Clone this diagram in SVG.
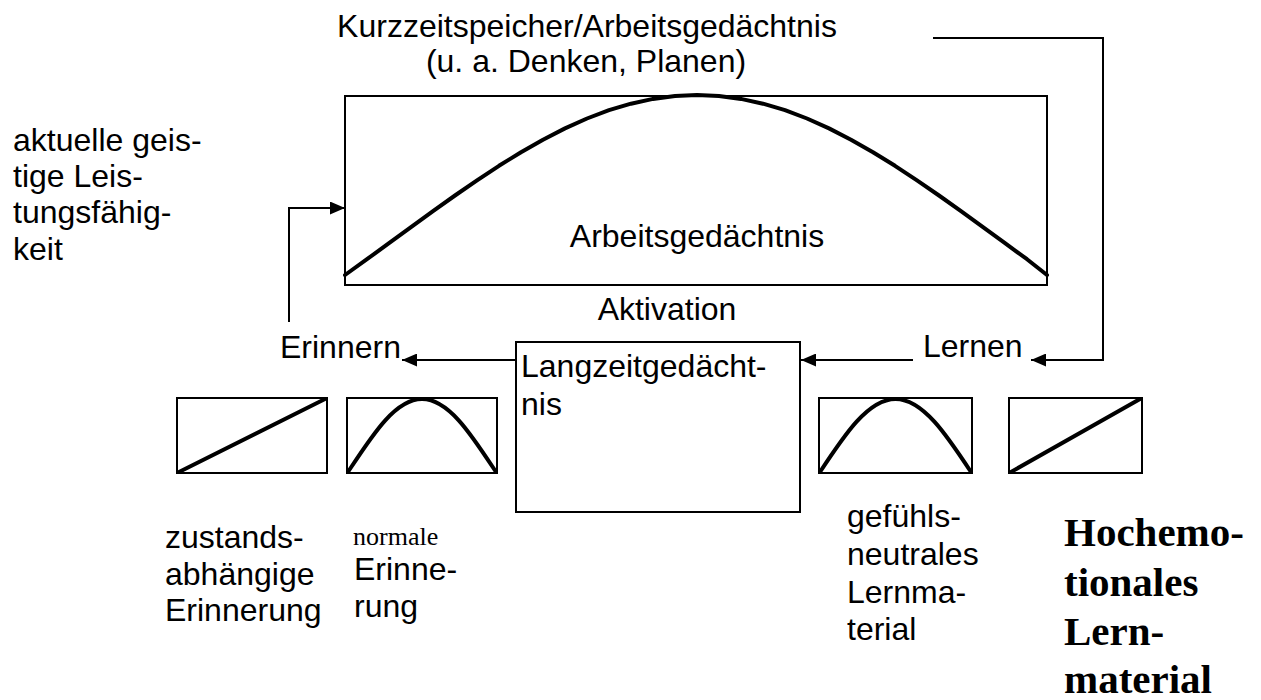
<svg xmlns="http://www.w3.org/2000/svg" width="1261" height="700" viewBox="0 0 1261 700">
<style>
.t{font-family:"Liberation Sans",Arial,sans-serif;font-size:32px;fill:#000}
.box{fill:none;stroke:#000;stroke-width:2}
.curve{fill:none;stroke:#000;stroke-width:4;stroke-linejoin:round;stroke-linecap:round}
.con{fill:none;stroke:#000;stroke-width:2}
.ser{font-family:"Liberation Serif","Times New Roman",serif;fill:#000}
.hb{font-family:"Liberation Serif","Times New Roman",serif;font-size:41px;font-weight:bold;fill:#000}
</style>
<defs>
<marker id="ah" viewBox="0 0 10 10" refX="10" refY="5" markerWidth="15" markerHeight="13" markerUnits="userSpaceOnUse" orient="auto" preserveAspectRatio="none">
<path d="M0,0 L10,5 L0,10 Z" fill="#000"/>
</marker>
</defs>
<rect width="1261" height="700" fill="#fff"/>

<g id="title">
<text class="t" x="587" y="37" text-anchor="middle">Kurzzeitspeicher/Arbeitsgedächtnis</text>
<text class="t" x="586" y="72" text-anchor="middle">(u. a. Denken, Planen)</text>
</g>

<g id="arbeitsgedaechtnis">
<rect class="box" x="345" y="96" width="702" height="189"/>
<polyline class="curve" points="345,275 367,259.2 389,243.2 411,227.1 433,211.2 455,195.5 477,180.3 499,165.8 521,152.2 543,139.7 565,128.4 587,118.5 609,110.2 631,103.7 653,98.9 675,96 697,95 719,96 741,98.9 763,103.7 785,110.2 807,118.5 829,128.4 851,139.7 873,152.2 895,165.8 917,180.3 939,195.5 961,211.2 983,227.1 1005,243.2 1027,259.2 1047,275"/>
<text class="t" x="697" y="247" text-anchor="middle">Arbeitsgedächtnis</text>
</g>

<g id="leistung">
<text class="t" x="13" y="151">aktuelle geis-</text>
<text class="t" x="13" y="187">tige Leis-</text>
<text class="t" x="13" y="223">tungsfähig-</text>
<text class="t" x="13" y="260">keit</text>
</g>

<g id="aktivation"><text class="t" x="667" y="320" text-anchor="middle">Aktivation</text></g>
<g id="erinnern"><text class="t" x="280" y="358" font-size="31">Erinnern</text></g>
<g id="lernen"><text class="t" x="923" y="357" font-size="31">Lernen</text></g>

<g id="langzeit">
<rect class="box" x="516" y="342" width="284" height="170"/>
<text class="t" x="521" y="377">Langzeitgedächt-</text>
<text class="t" x="521" y="415">nis</text>
</g>

<g id="box-zustand">
<rect class="box" x="177" y="398" width="150" height="75"/>
<line class="curve" x1="179" y1="472" x2="325" y2="399"/>
</g>
<g id="box-normal">
<rect class="box" x="347" y="398" width="150" height="75"/>
<path class="curve" d="M348,472 C372,435.6 395,399 422,399 C449,399 472,435.6 496,472"/>
</g>
<g id="box-neutral">
<rect class="box" x="819" y="398" width="153" height="75"/>
<path class="curve" d="M820,472 C844,435.6 868,399 895.5,399 C923,399 947,435.6 971,472"/>
</g>
<g id="box-emotional">
<rect class="box" x="1009" y="398" width="133" height="75"/>
<line class="curve" x1="1011" y1="472" x2="1140" y2="399"/>
</g>

<g id="label-zustand">
<text class="t" x="165" y="548">zustands-</text>
<text class="t" x="165" y="585">abhängige</text>
<text class="t" x="165" y="621">Erinnerung</text>
</g>
<g id="label-normal">
<text class="ser" x="353" y="545" font-size="26">normale</text>
<text class="t" x="354" y="580">Erinne-</text>
<text class="t" x="354" y="617">rung</text>
</g>
<g id="label-neutral">
<text class="t" x="847" y="527">gefühls-</text>
<text class="t" x="847" y="565">neutrales</text>
<text class="t" x="847" y="603">Lernma-</text>
<text class="t" x="847" y="640">terial</text>
</g>
<g id="label-emotional">
<text class="hb" x="1064" y="546">Hochemo-</text>
<text class="hb" x="1064" y="596">tionales</text>
<text class="hb" x="1064" y="645">Lern-</text>
<text class="hb" x="1064" y="693">material</text>
</g>

<g id="connectors">
<polyline class="con" points="289,322 289,208 345,208" marker-end="url(#ah)"/>
<line class="con" x1="516" y1="360" x2="402" y2="360" marker-end="url(#ah)"/>
<line class="con" x1="913" y1="360" x2="801" y2="360" marker-end="url(#ah)"/>
<polyline class="con" points="933,38 1103,38 1103,360 1031,360" marker-end="url(#ah)"/>
</g>
</svg>
